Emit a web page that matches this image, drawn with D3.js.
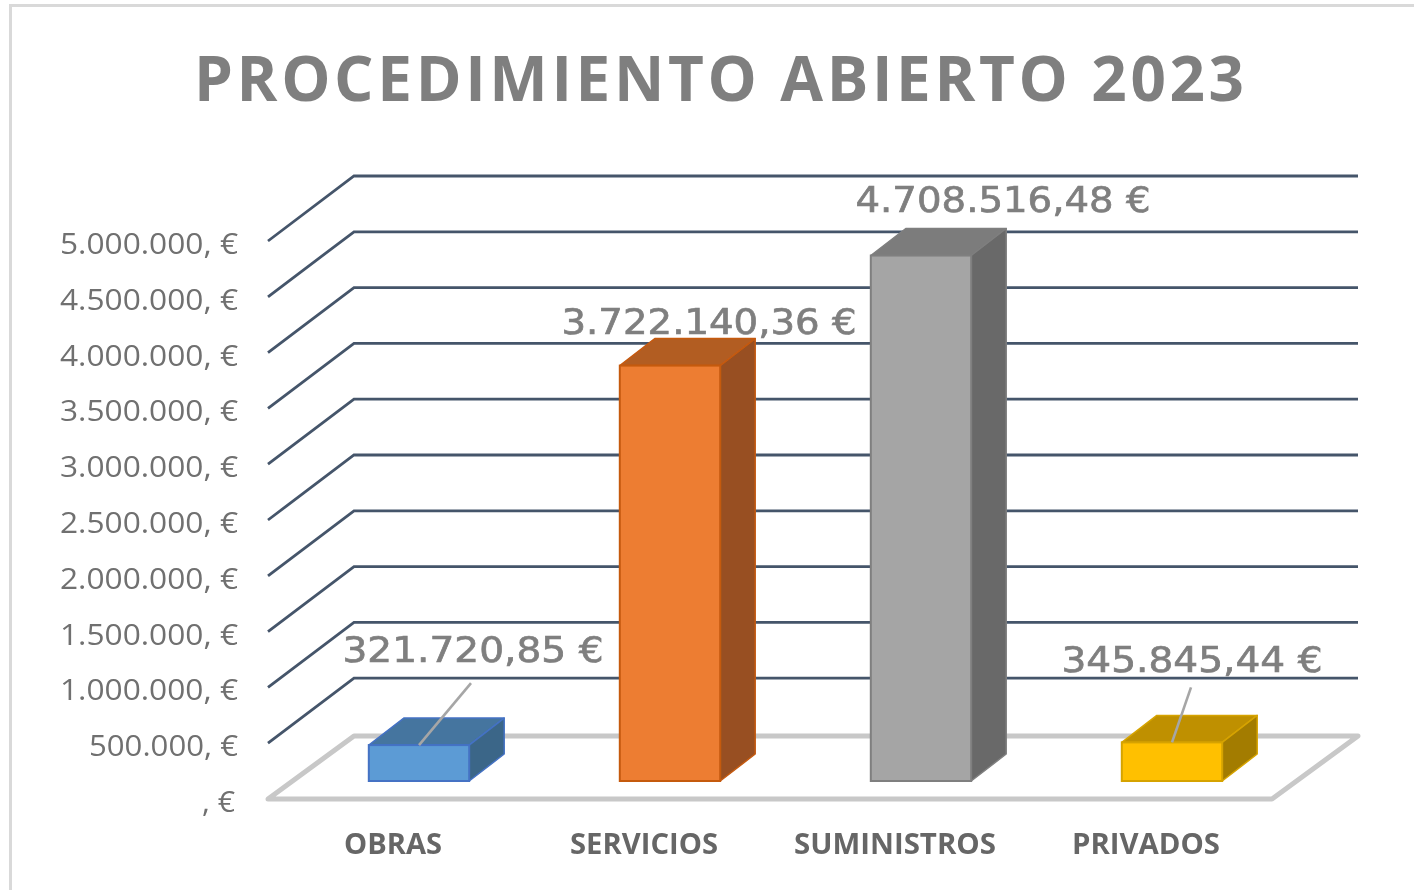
<!DOCTYPE html>
<html><head><meta charset="utf-8">
<script src="https://cdn.jsdelivr.net/npm/d3@7"></script>
<style>html,body{margin:0;padding:0;background:#fff}svg{display:block}</style>
</head><body><div id="c"></div>
<script>
const titleText = "PROCEDIMIENTO ABIERTO 2023";
const categories = ["OBRAS","SERVICIOS","SUMINISTROS","PRIVADOS"];
const values = [321720.85,3722140.36,4708516.48,345845.44];
const valueLabels = ["321.720,85 €","3.722.140,36 €","4.708.516,48 €","345.845,44 €"];
const tickValues = [0,500000,1000000,1500000,2000000,2500000,3000000,3500000,4000000,4500000,5000000];
const tickLabels = [", €","500.000, €","1.000.000, €","1.500.000, €","2.000.000, €","2.500.000, €","3.000.000, €","3.500.000, €","4.000.000, €","4.500.000, €","5.000.000, €"];
const faceColors = ["#5b9bd5","#ed7d31","#a5a5a5","#ffc000"];
const topColors = ["#44749f","#b25d24","#7c7c7c","#bf9000"];
const sideColors = ["#3b6688","#985020","#696969","#a37b00"];
const edgeColors = ["#4472c4","#c55a11","#7f7f7f","#d6a300"];

const W=1414,H=890;
const svg=d3.select("#c").append("svg").attr("width",W).attr("height",H);
const defs=svg.append("defs");
defs.append("filter").attr("id","soft").append("feGaussianBlur").attr("stdDeviation",0.7);
const root=svg.append("g").attr("filter","url(#soft)");

root.append("rect").attr("x",10.5).attr("y",5.5).attr("width",1420).attr("height",900)
  .attr("fill","#fff").attr("stroke","#d9d9d9").attr("stroke-width",3);

const frontLeft=268, frontRight=1272, frontBase=799;
const wallDX=86, wallDY=-63;
const y=d3.scaleLinear().domain([0,5000000]).range([frontBase,241]);
const x=d3.scaleBand().domain(categories).range([frontLeft,frontRight]).paddingInner(0.6).paddingOuter(0.3);
const barBase=781, barDX=35, barDY=-27, barShift=25.5;
const bx=c=>x(c)+barShift;
const h=v=>y(0)-y(v);

// grid lines
const gridVals=tickValues.slice(1);
const line=d3.line();
root.append("g").selectAll("path").data(gridVals).join("path")
  .attr("d",v=>line([[frontLeft,y(v)],[frontLeft+wallDX,y(v)+wallDY-2],[frontRight+wallDX,y(v)+wallDY-2]]))
  .attr("fill","none").attr("stroke","#44546a").attr("stroke-width",2.8);

// floor
root.append("path")
  .attr("d",line([[frontLeft,y(0)],[frontLeft+wallDX,y(0)+wallDY],[frontRight+wallDX,y(0)+wallDY],[frontRight,y(0)]])+"Z")
  .attr("fill","none").attr("stroke","#c8c8c8").attr("stroke-width",5).attr("stroke-linejoin","round");

// axis labels
root.append("g").selectAll("text").data(tickValues).join("text")
  .attr("x",v=>v===0?235:238).attr("y",v=>y(v)+13).attr("text-anchor","end")
  .attr("font-family","'Open Sans'").attr("font-size",30).attr("fill","#6f6f6f")
  .attr("textLength",(v,i)=>i===0?33:(i===1?149:178)).attr("lengthAdjust","spacingAndGlyphs")
  .text((v,i)=>tickLabels[i]);

// bars
const bars=root.append("g").selectAll("g").data(categories).join("g");
bars.append("path").attr("d",(c,i)=>{const l=bx(c),r=l+x.bandwidth(),t=barBase-h(values[i]);
   return line([[l,t],[l+barDX,t+barDY],[r+barDX,t+barDY],[r,t]])+"Z";})
  .attr("fill",(c,i)=>topColors[i]).attr("stroke",(c,i)=>edgeColors[i]).attr("stroke-width",1.5).attr("stroke-linejoin","round");
bars.append("path").attr("d",(c,i)=>{const r=bx(c)+x.bandwidth(),t=barBase-h(values[i]);
   return line([[r,t],[r+barDX,t+barDY],[r+barDX,barBase+barDY],[r,barBase]])+"Z";})
  .attr("fill",(c,i)=>sideColors[i]).attr("stroke",(c,i)=>edgeColors[i]).attr("stroke-width",1.5).attr("stroke-linejoin","round");
bars.append("rect").attr("x",c=>bx(c)).attr("width",x.bandwidth())
  .attr("y",(c,i)=>barBase-h(values[i])).attr("height",(c,i)=>h(values[i]))
  .attr("fill",(c,i)=>faceColors[i]).attr("stroke",(c,i)=>edgeColors[i]).attr("stroke-width",2);

// leader lines for the two short bars
const leaderEnd={OBRAS:[52,-62],PRIVADOS:[19,-55]};
root.append("g").selectAll("path").data(categories.filter(c=>leaderEnd[c])).join("path")
  .attr("d",c=>{const i=categories.indexOf(c),cx=bx(c)+x.bandwidth()/2,t=barBase-h(values[i]);
     return line([[cx,t],[cx+leaderEnd[c][0],t+leaderEnd[c][1]]]);})
  .attr("stroke","#a6a6a6").attr("stroke-width",2.6).attr("fill","none");

// data labels (offset from each bar's centre & top)
const lblOff=[[54,-83],[39,-32],[82,-44],[20,-70]];
root.append("g").selectAll("text").data(categories).join("text")
  .attr("x",(c,i)=>bx(c)+x.bandwidth()/2+lblOff[i][0])
  .attr("y",(c,i)=>barBase-h(values[i])+lblOff[i][1])
  .attr("text-anchor","middle")
  .attr("font-family","'DejaVu Sans'").attr("font-size",36).attr("fill","#7f7f7f")
  .attr("stroke","#7f7f7f").attr("stroke-width",0.7)
  .attr("textLength",(c,i)=>i%3===0?261:295).attr("lengthAdjust","spacingAndGlyphs")
  .text((c,i)=>valueLabels[i]);

// category labels
root.append("g").selectAll("text").data(categories).join("text")
  .attr("x",c=>x(c)+x.bandwidth()/2-0.5).attr("y",854).attr("text-anchor","middle")
  .attr("font-family","'Open Sans'").attr("font-weight",700).attr("font-size",28).attr("fill","#666")
  .attr("textLength",(c,i)=>[98,148,202,148][i]).attr("lengthAdjust","spacingAndGlyphs")
  .text(c=>c);

// title
root.append("text").attr("x",719).attr("y",101).attr("text-anchor","middle")
  .attr("font-family","'Open Sans'").attr("font-weight",700).attr("font-size",62).attr("fill","#7f7f7f")
  .attr("textLength",1050).attr("lengthAdjust","spacing").text(titleText);
</script></body></html>
